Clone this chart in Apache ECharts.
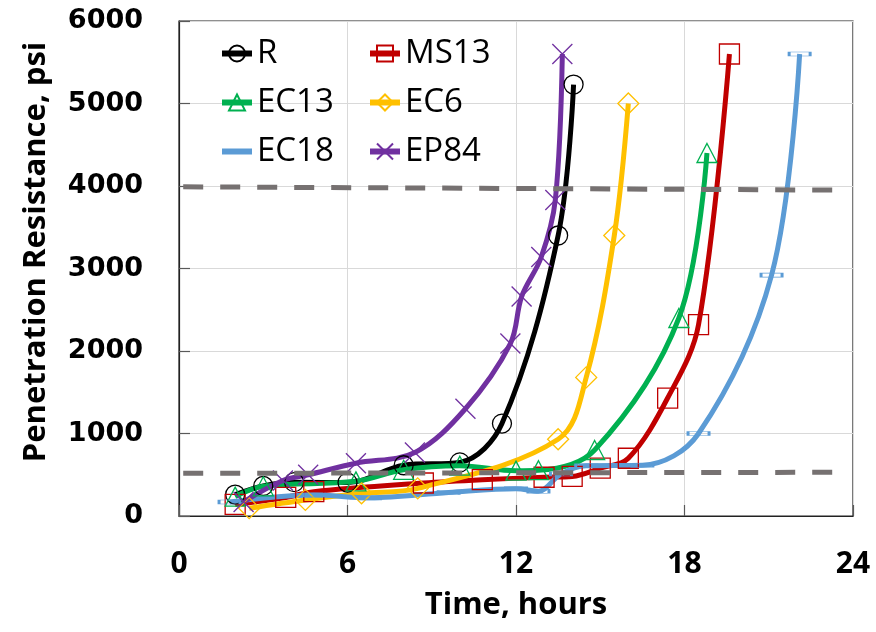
<!DOCTYPE html>
<html><head><meta charset="utf-8">
<script src="https://cdn.jsdelivr.net/npm/echarts@6/dist/echarts.min.js"></script>
<style>html,body{margin:0;padding:0;background:#fff}#c{width:876px;height:632px}</style>
</head><body><div id="c"></div>
<script>
// ---- data (hours, psi) ----
const R    = [[2,260],[3,365],[4.1,410],[6,405],[8,615],[10,650],[11.5,1120],[13.5,3400],[14.05,5230]];
const MS13 = [[2,140],[3.8,225],[4.8,295],[8.7,400],[10.8,440],[13,470],[14,480],[15,580],[16,700],[17.4,1430],[18.5,2320],[19.6,5600]];
const EC13 = [[2,235],[3,360],[6.3,420],[8,560],[10,610],[12,550],[12.8,555],[14.8,800],[17.8,2400],[18.8,4400]];
const EC6  = [[2.5,95],[4.5,195],[6.5,275],[8.5,335],[13.5,930],[14.5,1680],[15.5,3400],[16,5000]];
const EC18 = [[1.8,170],[4.8,255],[6.8,220],[9.6,285],[12,330],[12.8,300],[13.6,510],[14.5,610],[16.5,615],[18.5,1000],[21.1,2920],[22.1,5600]];
const EP84 = [[2.3,170],[3.7,430],[4.6,500],[6.3,640],[8.4,770],[10.2,1300],[11.8,2090],[12.2,2660],[12.9,3140],[13.4,3830],[13.65,5600]];
const upperLimit = [[0.15,3990],[23.6,3950]];
const lowerLimit = [[0.15,517],[23.5,530]];
const xTicks = [0,6,12,18,24];
const yTicks = [0,1000,2000,3000,4000,5000,6000];
const legendLeft  = ['R','EC13','EC18'];
const legendRight = ['MS13','EC6','EP84'];

const chart = echarts.init(document.getElementById('c'), null, {renderer:'canvas'});

function mk(name, data, color, symbol, size){
  return {
    name, type:'line', data, smooth:0.35, symbol, symbolSize:size, showSymbol:true,
    lineStyle:{color, width:5},
    itemStyle:{color:'rgba(255,255,255,0)', borderColor:color, borderWidth:1.3},
    emphasis:{disabled:true}, z:2
  };
}
function dash(data){
  return {type:'line', data, symbol:'none', silent:true, z:5,
    lineStyle:{color:'#767171', width:5, type:[20,17]}};
}
function legendItems(names){
  return names.map(n => n === 'EC18' ? {name:n, itemStyle:{borderColor:'rgba(0,0,0,0)'}} : n);
}

const legendText = {fontFamily:'Open Sans', fontSize:33, color:'#000', lineHeight:33};
const legendBase = {orient:'vertical', top:32, itemWidth:30, itemHeight:20, itemGap:16,
  textStyle:legendText, selectedMode:false, lineStyle:{width:6}};
chart.setOption({
  animation:false,
  backgroundColor:'#fff',
  grid:{left:179, right:23, top:21, bottom:116, show:true, borderColor:'#222', borderWidth:1.2},
  xAxis:{type:'value', min:xTicks[0], max:xTicks[xTicks.length-1], interval:xTicks[1]-xTicks[0],
    name:'Time, hours', nameLocation:'middle', nameGap:74,
    nameTextStyle:{fontFamily:'Open Sans', fontWeight:'bold', fontSize:31, color:'#000'},
    axisLine:{show:true, lineStyle:{color:'#222', width:1.2}},
    axisTick:{show:true, inside:true, length:11, lineStyle:{color:'#595959', width:1.2}},
    axisLabel:{margin:33, fontFamily:'Open Sans', fontWeight:'bold', fontSize:30, color:'#000'},
    splitLine:{show:true, lineStyle:{color:'#d9d9d9', width:1}}
  },
  yAxis:{type:'value', min:yTicks[0], max:yTicks[yTicks.length-1], interval:yTicks[1]-yTicks[0],
    axisLine:{show:true, lineStyle:{color:'#222', width:1.2}},
    axisTick:{show:true, inside:true, length:11, lineStyle:{color:'#595959', width:1.2}},
    axisLabel:{margin:36, fontFamily:'DejaVu Sans', fontWeight:'bold', fontSize:27, color:'#000',
      formatter: v => String(v)},
    splitLine:{show:true, lineStyle:{color:'#d9d9d9', width:1}}
  },
  graphic:[{type:'text', x:36, y:252, rotation:Math.PI/2,
    style:{text:'Penetration Resistance, psi', textAlign:'center', textVerticalAlign:'middle',
      font:'bold 31px "Open Sans"', fill:'#000'}}],
  legend:[
    Object.assign({left:214, data:legendItems(legendLeft)}, legendBase),
    Object.assign({left:362, data:legendItems(legendRight)}, legendBase)
  ],
  series:[
    mk('R', R, '#000000', 'circle', 19),
    mk('MS13', MS13, '#C00000', 'rect', 20),
    mk('EC13', EC13, '#00B050', 'triangle', [20,19]),
    mk('EC6', EC6, '#FFC000', 'diamond', [21,21]),
    mk('EC18', EC18, '#5B9BD5', 'rect', [21,4]),
    mk('EP84', EP84, '#7030A0', 'path://M0,0L20,20M20,0L0,20', 20),
    dash(upperLimit), dash(lowerLimit)
  ]
});
</script></body></html>
